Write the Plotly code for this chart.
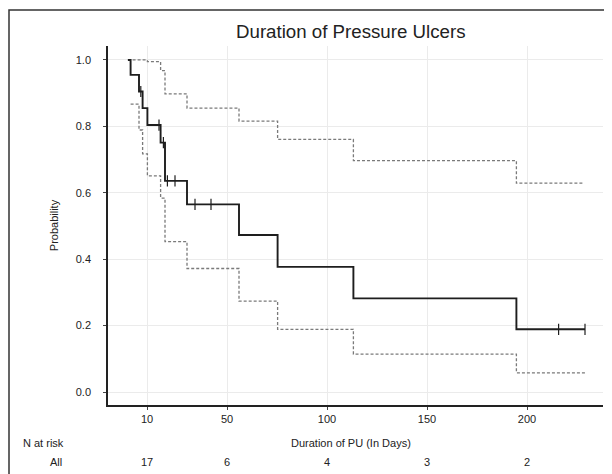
import plotly.graph_objects as go

# Kaplan-Meier estimate (days, survival probability)
km_t = [0.5, 1.8, 6, 7.8, 10.2, 16.8, 19, 30, 56, 75.3, 113.2, 194.7, 229]
km_s = [1.0, 0.955, 0.905, 0.855, 0.804, 0.751, 0.636, 0.565, 0.473, 0.377, 0.282, 0.189, 0.189]

# Censored observations
cens_t = [6.9, 16, 18.2, 20.2, 24, 34, 42, 215.8, 229]
cens_s = [0.905, 0.804, 0.751, 0.636, 0.636, 0.565, 0.565, 0.189, 0.189]

# Confidence limits
up_t = [0.3, 10.2, 16.8, 19, 30, 56, 75.3, 113.2, 194.7, 228]
up_s = [1.0, 0.995, 0.968, 0.898, 0.855, 0.816, 0.761, 0.697, 0.629, 0.629]
lo_t = [1.8, 6, 7.8, 10.2, 16.8, 19, 30, 56, 75.3, 113.2, 194.7, 229]
lo_s = [0.867, 0.789, 0.717, 0.651, 0.584, 0.453, 0.372, 0.274, 0.189, 0.114, 0.058, 0.058]

# Axis ticks and number at risk
x_ticks = [10, 50, 100, 150, 200]
y_ticks = [0.0, 0.2, 0.4, 0.6, 0.8, 1.0]
n_risk = [17, 6, 4, 3, 2]

FONT = "Liberation Sans, Arial, sans-serif"
fig = go.Figure()

fig.add_trace(go.Scatter(x=up_t, y=up_s, mode="lines", line_shape="hv",
                         line=dict(color="#7a7a7a", width=1.3, dash="3px,2px"),
                         showlegend=False, hoverinfo="skip"))
fig.add_trace(go.Scatter(x=lo_t, y=lo_s, mode="lines", line_shape="hv",
                         line=dict(color="#7a7a7a", width=1.3, dash="3px,2px"),
                         showlegend=False, hoverinfo="skip"))
fig.add_trace(go.Scatter(x=km_t, y=km_s, mode="lines", line_shape="hv",
                         line=dict(color="#1e1e1e", width=1.9),
                         showlegend=False))
fig.add_trace(go.Scatter(x=cens_t, y=cens_s, mode="markers",
                         marker=dict(symbol="line-ns", size=8,
                                     line=dict(color="#1e1e1e", width=1.2)),
                         showlegend=False))

# The page body has an 8px margin, so the figure is 8px smaller on each axis
fig.update_layout(
    width=604, height=466,
    margin=dict(l=100, r=9, t=38, b=69),
    paper_bgcolor="white", plot_bgcolor="white",
    font=dict(family=FONT, size=11, color="#222"),
    xaxis=dict(range=[-9.5, 238], tickvals=x_ticks, ticks="outside", ticklen=3,
               tickcolor="#444", showline=True, linecolor="#222", linewidth=1.5,
               showgrid=True, gridcolor="#ebebeb", gridwidth=1, zeroline=False,
               tickfont=dict(size=11, color="#222")),
    yaxis=dict(range=[-0.039, 1.042], tickvals=y_ticks,
               ticktext=[f"{v:.1f}" for v in y_ticks], ticks="outside", ticklen=3,
               tickcolor="#444", showline=True, linecolor="#222", linewidth=1.5,
               showgrid=True, gridcolor="#ebebeb", gridwidth=1, zeroline=False,
               ticklabelstandoff=10, tickfont=dict(size=11, color="#222")),
)

ann = []
ann.append(dict(text="Duration of Pressure Ulcers", xref="paper", yref="paper",
                x=0.491, y=1.039, showarrow=False, xanchor="center", yanchor="middle",
                font=dict(size=18.7, color="#222", family=FONT)))
ann.append(dict(text="Probability", xref="paper", yref="paper", x=-0.109, y=0.501,
                textangle=-90, showarrow=False, xanchor="center", yanchor="middle",
                font=dict(size=11, color="#222", family=FONT)))
ann.append(dict(text="Duration of PU (In Days)", xref="paper", yref="paper",
                x=0.491, y=-0.106, showarrow=False, xanchor="center", yanchor="middle",
                font=dict(size=11, color="#222", family=FONT)))
ann.append(dict(text="N at risk", xref="paper", yref="paper", x=-0.176, y=-0.106,
                showarrow=False, xanchor="left", yanchor="middle",
                font=dict(size=11, color="#222", family=FONT)))
ann.append(dict(text="All", xref="paper", yref="paper", x=-0.089, y=-0.159,
                showarrow=False, xanchor="right", yanchor="middle",
                font=dict(size=11, color="#222", family=FONT)))
for xt, n in zip(x_ticks, n_risk):
    ann.append(dict(text=str(n), xref="x", yref="paper", x=xt, y=-0.159,
                    showarrow=False, xanchor="center", yanchor="middle",
                    font=dict(size=11, color="#222", family=FONT)))
fig.update_layout(annotations=ann)

fig.add_shape(type="rect", xref="paper", yref="paper", x0=-0.2, x1=1.1,
              y0=-0.5, y1=1.1003, line=dict(color="#333", width=1.5), layer="above")

fig.write_html("out.html")
